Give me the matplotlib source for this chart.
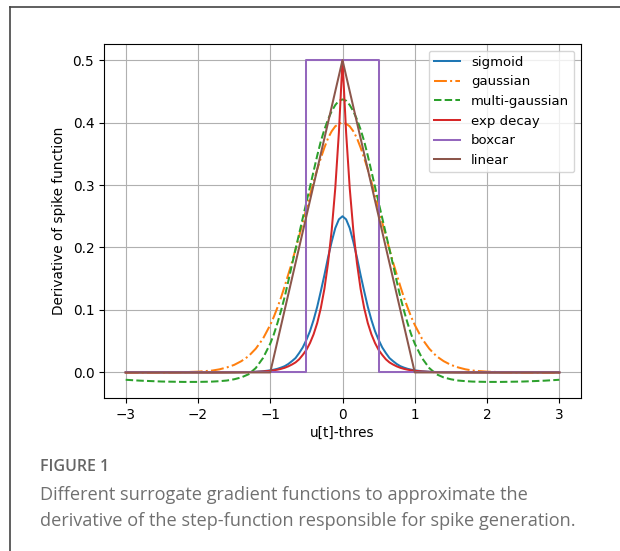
import matplotlib.pyplot as plt
from matplotlib.lines import Line2D

# readings taken on the positive side; the curves are symmetric about 0
half_x = [0, 0.05, 0.1, 0.15, 0.2, 0.25, 0.3, 0.35, 0.4, 0.45, 0.5, 0.55, 0.6, 0.65,
          0.7, 0.75, 0.8, 0.85, 0.9, 0.95, 1.0, 1.1, 1.2, 1.3, 1.4, 1.5, 1.6, 1.7,
          1.8, 2.0, 2.2, 2.5, 2.8, 3.0]
sigmoid = [0.250, 0.245, 0.231, 0.209, 0.184, 0.156, 0.130, 0.105, 0.084, 0.066,
           0.052, 0.040, 0.031, 0.023, 0.018, 0.0135, 0.010, 0.0077, 0.0058, 0.0044,
           0.0033, 0.0019, 0.0011, 0.0006, 0.0003, 0.0002, 0.0001, 0.0001, 0.0, 0.0,
           0.0, 0.0, 0.0, 0.0]
gaussian = [0.400, 0.398, 0.394, 0.386, 0.375, 0.360, 0.343, 0.325, 0.305, 0.284,
            0.262, 0.240, 0.218, 0.197, 0.176, 0.157, 0.138, 0.120, 0.104, 0.089,
            0.076, 0.054, 0.038, 0.026, 0.018, 0.012, 0.008, 0.005, 0.003, 0.0012,
            0.0004, 0.0001, 0.0, 0.0]
multi_gaussian = [0.437, 0.435, 0.428, 0.418, 0.405, 0.389, 0.370, 0.347, 0.322, 0.297,
                  0.272, 0.247, 0.222, 0.197, 0.172, 0.146, 0.121, 0.099, 0.079, 0.061,
                  0.046, 0.023, 0.007, -0.003, -0.008, -0.011, -0.013, -0.014, -0.0147,
                  -0.0152, -0.0152, -0.0146, -0.0132, -0.0118]
exp_decay = [0.500, 0.384, 0.295, 0.227, 0.175, 0.134, 0.103, 0.079, 0.061, 0.047,
             0.036, 0.028, 0.021, 0.016, 0.0126, 0.0097, 0.0074, 0.0057, 0.0044, 0.0034,
             0.0026, 0.0015, 0.0009, 0.0005, 0.0003, 0.0002, 0.0001, 0.0, 0.0, 0.0,
             0.0, 0.0, 0.0, 0.0]

boxcar_x = [-3, -0.5, -0.5, 0.5, 0.5, 3]
boxcar_y = [0, 0, 0.5, 0.5, 0, 0]
linear_x = [-3, -1, 0, 1, 3]
linear_y = [0, 0, 0.5, 0, 0]

labels = ['sigmoid', 'gaussian', 'multi-gaussian', 'exp decay', 'boxcar', 'linear']


def mirror(xs, ys):
    return [-v for v in xs[:0:-1]] + xs, ys[:0:-1] + ys


fig = plt.figure(figsize=(6.2, 5.51), dpi=100)
ax = fig.add_axes([104 / 620, 1 - 398 / 551, 477 / 620, 354 / 551])

lw = 1.45
ax.plot(*mirror(half_x, sigmoid), color='C0', lw=lw, label=labels[0])
ax.plot(*mirror(half_x, gaussian), color='C1', lw=lw, ls='-.', label=labels[1])
ax.plot(*mirror(half_x, multi_gaussian), color='C2', lw=lw, ls='--', label=labels[2])
ax.plot(*mirror(half_x, exp_decay), color='C3', lw=lw, label=labels[3])
ax.plot(boxcar_x, boxcar_y, color='C4', lw=lw, label=labels[4])
ax.plot(linear_x, linear_y, color='C5', lw=lw, label=labels[5])

fs = 9.8
ax.set_xticks([-3, -2, -1, 0, 1, 2, 3])
ax.set_yticks([0.0, 0.1, 0.2, 0.3, 0.4, 0.5])
ax.tick_params(labelsize=fs)
ax.grid(True)
ax.set_xlabel('u[t]-thres', fontsize=fs, labelpad=3)
ax.set_ylabel('Derivative of spike function', fontsize=fs, labelpad=5)
ax.legend(loc='upper right', fontsize=9.5)

# page frame around the figure
fig.add_artist(Line2D([10 / 620, 10 / 620], [0, 1 - 7 / 551], color='#444444', lw=1.2))
fig.add_artist(Line2D([10 / 620, 1], [1 - 7 / 551, 1 - 7 / 551], color='#444444', lw=1.2))

fig.text(40 / 620, 1 - 467 / 551, 'FIGURE 1', fontsize=11.5, color='#666666',
         fontweight='semibold', family='Open Sans', va='center')
fig.text(40 / 620, 1 - 495 / 551, 'Different surrogate gradient functions to approximate the',
         fontsize=13.1, color='#707070', family='Open Sans', va='center')
fig.text(40 / 620, 1 - 521 / 551,
         'derivative of the step-function responsible for spike generation.',
         fontsize=13.1, color='#707070', family='Open Sans', va='center')

fig.savefig('out.png', dpi=100)
